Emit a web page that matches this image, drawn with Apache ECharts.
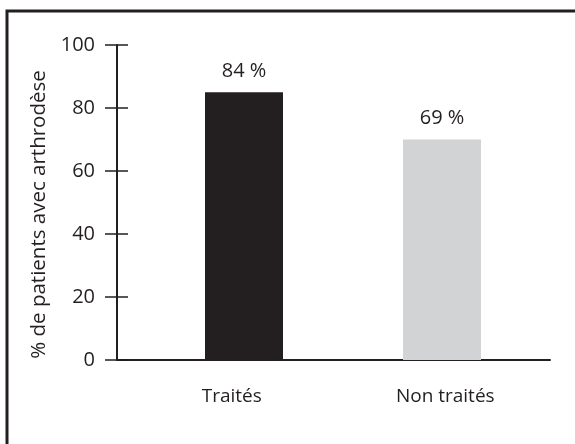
<!DOCTYPE html>
<html>
<head>
<meta charset="utf-8">
<script src="https://cdn.jsdelivr.net/npm/echarts@6/dist/echarts.min.js"></script>
<style>html,body{margin:0;padding:0;background:#fff;}#c{width:575px;height:444px;}</style>
</head>
<body>
<div id="c"></div>
<script>
const categories = ['Traités', 'Non traités'];
const values = [85, 70];
const valueLabels = ['84 %', '69 %'];
const barColors = ['#231f20', '#d1d3d4'];
const yTicks = [0, 20, 40, 60, 80, 100];
const yAxisName = '% de patients avec arthrodèse';

const ink = '#231f20';
const font = 'Open Sans';
const chart = echarts.init(document.getElementById('c'), null, {renderer: 'canvas'});
const gridTop = 45, gridBottom = 84;
chart.setOption({
  animation: false,
  backgroundColor: '#fff',
  textStyle: {fontFamily: font, color: ink},
  graphic: [{
    type: 'rect', shape: {x: 7, y: 11, width: 700, height: 600},
    style: {fill: 'none', stroke: ink, lineWidth: 3}, silent: true
  }],
  grid: [
    {left: 117, right: 25, top: gridTop, bottom: gridBottom},
    {left: 145, right: 34, top: gridTop, bottom: gridBottom},
    {left: 125, right: 23, top: gridTop, bottom: gridBottom}
  ],
  xAxis: [
    {gridIndex: 0, type: 'category', data: categories,
     axisLine: {lineStyle: {color: ink, width: 2}}, axisTick: {show: false}, axisLabel: {show: false}},
    {gridIndex: 1, type: 'category', data: categories, show: false},
    {gridIndex: 2, type: 'category', data: categories,
     axisLine: {show: false}, axisTick: {show: false},
     axisLabel: {margin: 27, fontSize: 19, color: ink, fontFamily: font}}
  ],
  yAxis: [
    {gridIndex: 0, type: 'value', min: yTicks[0], max: yTicks[yTicks.length - 1], interval: yTicks[1] - yTicks[0],
     name: yAxisName, nameLocation: 'middle', nameGap: 57, nameRotate: 90,
     nameTextStyle: {fontSize: 20.5, color: ink, fontFamily: font, padding: [0, 24, 0, 0]},
     axisLine: {show: true, lineStyle: {color: ink, width: 2}},
     axisTick: {show: true, length: 12, lineStyle: {color: ink, width: 1.5}},
     axisLabel: {margin: 22, fontSize: 20, color: ink, fontFamily: font},
     splitLine: {show: false}},
    {gridIndex: 0, type: 'value', min: yTicks[0], max: yTicks[yTicks.length - 1], interval: yTicks[1] - yTicks[0],
     position: 'left',
     axisLine: {show: false},
     axisTick: {show: true, inside: true, length: 11, lineStyle: {color: ink, width: 1.5}},
     axisLabel: {show: false}, splitLine: {show: false}},
    {gridIndex: 1, type: 'value', min: yTicks[0], max: yTicks[yTicks.length - 1], show: false},
    {gridIndex: 2, type: 'value', min: yTicks[0], max: yTicks[yTicks.length - 1], show: false}
  ],
  series: [{
    type: 'bar', xAxisIndex: 1, yAxisIndex: 2, barWidth: 78,
    data: values.map((v, i) => ({value: v, itemStyle: {color: barColors[i]}})),
    label: {show: true, position: 'top', distance: 11, fontSize: 20, color: ink, fontFamily: font,
            formatter: p => valueLabels[p.dataIndex]}
  }]
});
</script>
</body>
</html>
